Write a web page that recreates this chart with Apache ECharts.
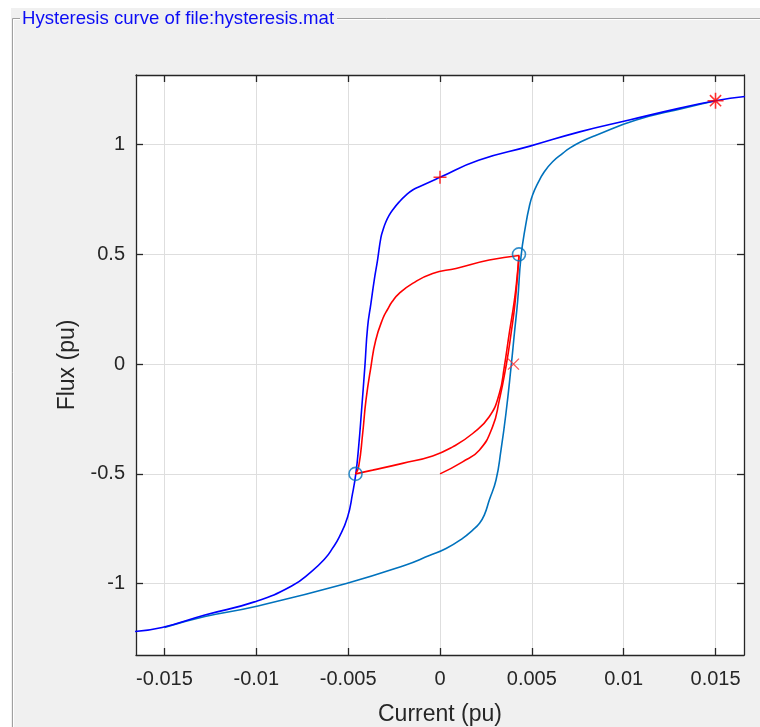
<!DOCTYPE html>
<html><head><meta charset="utf-8">
<script src="https://cdn.jsdelivr.net/npm/echarts@6/dist/echarts.min.js"></script>
<style>html,body{margin:0;padding:0;background:#fff}#c{width:760px;height:727px}</style>
</head><body><div id="c"></div><script>
const titleText = 'Hysteresis curve of file:hysteresis.mat';
const xName = 'Current (pu)';
const yName = 'Flux (pu)';
const xTicks = [-0.015, -0.01, -0.005, 0, 0.005, 0.01, 0.015];
const xTickLabels = ['-0.015', '-0.01', '-0.005', '0', '0.005', '0.01', '0.015'];
const yTicks = [-1, -0.5, 0, 0.5, 1];
const yTickLabels = ['-1', '-0.5', '0', '0.5', '1'];

// descending major branch (dark blue)
const descX = [0.0166, 0.0150, 0.0130, 0.0103, 0.0076, 0.0049, 0.0021, 0.0000, -0.00113, -0.00149, -0.00185, -0.00222, -0.00258, -0.00278, -0.00296, -0.00310, -0.00322, -0.0034, -0.00358, -0.00376, -0.00394, -0.00409, -0.00427, -0.00443, -0.00458, -0.00476, -0.00503, -0.00548, -0.0059, -0.0062, -0.0070, -0.0081, -0.0101, -0.0128, -0.01513, -0.0166];
const descY = [1.219, 1.200, 1.165, 1.112, 1.058, 0.993, 0.929, 0.851, 0.808, 0.793, 0.770, 0.739, 0.702, 0.676, 0.645, 0.612, 0.575, 0.474, 0.383, 0.277, 0.170, -0.010, -0.210, -0.377, -0.498, -0.589, -0.696, -0.787, -0.845, -0.880, -0.945, -1.012, -1.083, -1.143, -1.200, -1.218];
// ascending major branch (light blue)
const ascX = [-0.0150, -0.0128, -0.0101, -0.0051, -0.0019, -0.00058, 0.00033, 0.00123, 0.00178, 0.00214, 0.00241, 0.00268, 0.00305, 0.00332, 0.00359, 0.00387, 0.00405, 0.00423, 0.00441, 0.00468, 0.00486, 0.00504, 0.00532, 0.00568, 0.00613, 0.00668, 0.00704, 0.0077, 0.0085, 0.01068, 0.01321, 0.0150];
const ascY = [-1.200, -1.150, -1.105, -0.999, -0.916, -0.872, -0.840, -0.794, -0.756, -0.726, -0.688, -0.620, -0.528, -0.392, -0.225, -0.012, 0.140, 0.290, 0.489, 0.641, 0.717, 0.770, 0.823, 0.876, 0.922, 0.960, 0.983, 1.014, 1.043, 1.112, 1.165, 1.200];
// minor loop (red): rising start, upper return, lower return
const redX = [0.0000, 0.00123, 0.00214, 0.00286, 0.00323, 0.00359, 0.00387, 0.0041, 0.0043, 0.00268, 0.00087, -0.0004, -0.00149, -0.00222, -0.0026, -0.00285, -0.0031, -0.0035, -0.00376, -0.00403, -0.00421, -0.00443, -0.0046, -0.00367, -0.00204, -0.0004, 0.00069, 0.00178, 0.00268, 0.00323, 0.0035, 0.00377, 0.00405, 0.0042, 0.0043];
const redY = [-0.500, -0.445, -0.392, -0.286, -0.164, -0.012, 0.140, 0.290, 0.495, 0.474, 0.436, 0.413, 0.368, 0.322, 0.285, 0.250, 0.210, 0.109, -0.012, -0.164, -0.316, -0.468, -0.500, -0.483, -0.452, -0.418, -0.377, -0.316, -0.240, -0.134, -0.012, 0.140, 0.290, 0.400, 0.495];
const redTurns = [8, 22];
// markers
const plusPts = [[0, 0.851]];
const starPts = [[0.015, 1.2]];
const crossPts = [[0.004, 0]];
const circlePts = [[0.0043, 0.5], [-0.0046, -0.5]];

const zip = (a, b) => a.map((v, i) => [v, b[i]]);
const X_MIN = -0.01655, X_MAX = 0.01655, Y_MIN = -1.325, Y_MAX = 1.317;
const FONT = "'Liberation Sans', Arial, sans-serif";
const axisCol = '#262626';

const baseX = {
  type: 'value', min: X_MIN, max: X_MAX,
  axisLine: { show: true, onZero: false, lineStyle: { color: axisCol, width: 1.3 } },
  axisTick: { show: true, inside: true, length: 7, customValues: xTicks, lineStyle: { color: axisCol, width: 1.3 } },
  splitLine: { show: false }
};
const baseY = {
  type: 'value', min: Y_MIN, max: Y_MAX,
  axisLine: { show: true, onZero: false, lineStyle: { color: axisCol, width: 1.3 } },
  axisTick: { show: true, inside: true, length: 7, customValues: yTicks, lineStyle: { color: axisCol, width: 1.3 } },
  splitLine: { show: false }
};

const redData = zip(redX, redY);
const redSegs = [redData.slice(0, redTurns[0] + 1), redData.slice(redTurns[0], redTurns[1] + 1), redData.slice(redTurns[1])];
const SM = 0.5;

const chart = echarts.init(document.getElementById('c'), null, { renderer: 'canvas' });
chart.setOption({
  animation: false,
  backgroundColor: '#f0f0f0',
  grid: { left: 136, top: 75, right: 16, bottom: 72, show: true, backgroundColor: '#ffffff', borderWidth: 0,
    containLabel: false, outerBoundsMode: 'none' },
  xAxis: [
    Object.assign({}, baseX, {
      position: 'bottom',
      splitLine: { show: true, lineStyle: { color: '#dedede', width: 1 } },
      axisLabel: { show: true, customValues: xTicks, margin: 14, fontSize: 20, color: axisCol, fontFamily: FONT,
        formatter: v => xTickLabels[xTicks.findIndex(t => Math.abs(t - v) < 1e-9)] },
      name: xName, nameLocation: 'middle', nameGap: 48,
      nameTextStyle: { fontSize: 23, color: axisCol, fontFamily: FONT }
    }),
    Object.assign({}, baseX, { position: 'top', axisLabel: { show: false } })
  ],
  yAxis: [
    Object.assign({}, baseY, {
      position: 'left',
      splitLine: { show: true, lineStyle: { color: '#dedede', width: 1 } },
      axisLabel: { show: true, customValues: yTicks, margin: 11, fontSize: 20, color: axisCol, fontFamily: FONT,
        formatter: v => yTickLabels[yTicks.findIndex(t => Math.abs(t - v) < 1e-9)] },
      name: yName, nameLocation: 'middle', nameGap: 56,
      nameTextStyle: { fontSize: 23, color: axisCol, fontFamily: FONT }
    }),
    Object.assign({}, baseY, { position: 'right', axisLabel: { show: false } })
  ],
  graphic: { elements: [
    { type: 'rect', shape: { x: 0, y: 0, width: 760, height: 8 }, style: { fill: '#ffffff' }, silent: true },
    { type: 'rect', shape: { x: 0, y: 0, width: 11, height: 727 }, style: { fill: '#ffffff' }, silent: true },
    { type: 'line', shape: { x1: 12.5, y1: 18.5, x2: 760, y2: 18.5 }, style: { stroke: '#a0a0a0', lineWidth: 1 }, silent: true },
    { type: 'line', shape: { x1: 13.5, y1: 19.5, x2: 760, y2: 19.5 }, style: { stroke: '#ffffff', lineWidth: 1 }, silent: true },
    { type: 'line', shape: { x1: 12.5, y1: 18.5, x2: 12.5, y2: 727 }, style: { stroke: '#a0a0a0', lineWidth: 1 }, silent: true },
    { type: 'line', shape: { x1: 13.5, y1: 19.5, x2: 13.5, y2: 727 }, style: { stroke: '#ffffff', lineWidth: 1 }, silent: true },
    { type: 'text', x: 20, y: 19, z: 10, silent: true,
      style: { text: titleText, fill: '#0c0cf5', font: "18.6px " + FONT, verticalAlign: 'middle', align: 'left',
        backgroundColor: '#f0f0f0', padding: [0, 3, 0, 2] } }
  ] },
  series: [
    { type: 'line', name: 'ascending', data: zip(ascX, ascY), showSymbol: false, symbol: 'none', smooth: SM,
      lineStyle: { color: '#0072BD', width: 1.6 }, z: 2 },
    { type: 'line', name: 'descending', data: zip(descX, descY), showSymbol: false, symbol: 'none', smooth: SM,
      lineStyle: { color: '#0000ff', width: 1.6 }, z: 3 }
  ].concat(redSegs.map(seg => ({
    type: 'line', name: 'minor', data: seg, showSymbol: false, symbol: 'none', smooth: SM,
    lineStyle: { color: '#ff0000', width: 1.6 }, z: 4
  }))).concat([
    { type: 'scatter', data: plusPts, symbol: 'path://M0 5L10 5M5 0L5 10', symbolSize: 13,
      itemStyle: { color: 'transparent', borderColor: '#ff0000', borderWidth: 1.5 }, z: 5 },
    { type: 'scatter', data: starPts, symbol: 'path://M5 0L5 10M0 5L10 5M1.5 1.5L8.5 8.5M1.5 8.5L8.5 1.5', symbolSize: 16,
      itemStyle: { color: 'transparent', borderColor: '#ff0000', borderWidth: 1.6 }, z: 5 },
    { type: 'scatter', data: crossPts, symbol: 'path://M0 0L10 10M0 10L10 0', symbolSize: 11,
      itemStyle: { color: 'transparent', borderColor: '#ff3030', borderWidth: 1.4 }, z: 5 },
    { type: 'scatter', data: circlePts, symbol: 'circle', symbolSize: 13,
      itemStyle: { color: 'transparent', borderColor: '#0072BD', borderWidth: 1.6 }, z: 6 }
  ])
});
</script></body></html>
